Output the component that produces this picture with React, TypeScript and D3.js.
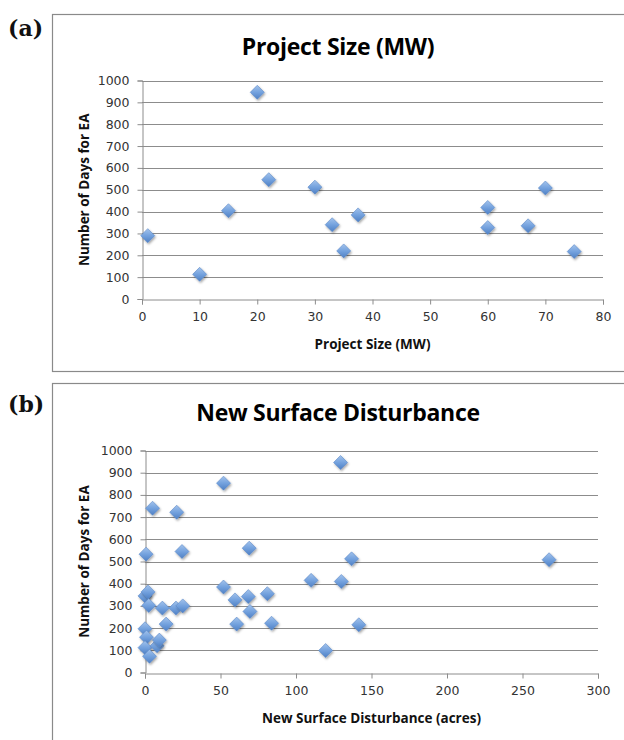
import React, { useEffect, useRef } from "react";
import * as d3 from "d3";

// (a) project size vs days
const sizeMW = [1, 10, 15, 20, 22, 30, 33, 35, 37.5, 60, 60, 67, 70, 75];
const daysBySize = [290, 113, 404, 946, 546, 512, 340, 220, 385, 419, 327, 335, 508, 217];

// (b) new surface disturbance vs days
const acres = [
  5, 21, 52, 0.7, 24.5, 69, 110, 52, 59.6, 68.4, 69.5, 81, 60.7, 83.8, 0, 2, 2.5, 11.5,
  20.5, 25, 14, 0, 1, 0, 3, 8, 9.5, 129.5, 136.8, 267.6, 130, 141.6, 119.6,
];
const daysByAcres = [
  740, 722, 853, 533, 545, 560, 415, 385, 327, 342, 275, 355, 218, 222, 345, 363, 302, 290,
  290, 300, 218, 197, 159, 112, 73, 120, 146, 946, 512, 508, 410, 215, 99,
];

const dayTicks = [0, 100, 200, 300, 400, 500, 600, 700, 800, 900, 1000];
const sizeTicks = [0, 10, 20, 30, 40, 50, 60, 70, 80];
const acreTicks = [0, 50, 100, 150, 200, 250, 300];

const App = () => {
  const chartRef = useRef(null);

  useEffect(() => {
    document.body.style.margin = "0";
    const width = 624;
    const height = 740;

    d3.select(chartRef.current).selectAll("*").remove();

    const svg = d3
      .select(chartRef.current)
      .append("svg")
      .attr("width", width)
      .attr("height", height)
      .style("display", "block");

    // marker fill and shadow
    const defs = svg.append("defs");
    const grad = defs
      .append("linearGradient")
      .attr("id", "dia")
      .attr("x1", "0")
      .attr("y1", "0")
      .attr("x2", "0")
      .attr("y2", "1");
    grad.append("stop").attr("offset", "0%").attr("stop-color", "#a3c3ec");
    grad.append("stop").attr("offset", "50%").attr("stop-color", "#74a2de");
    grad.append("stop").attr("offset", "100%").attr("stop-color", "#4f80c4");
    defs
      .append("filter")
      .attr("id", "shadow")
      .attr("x", "-50%")
      .attr("y", "-50%")
      .attr("width", "200%")
      .attr("height", "200%")
      .append("feDropShadow")
      .attr("dx", 1)
      .attr("dy", 1.5)
      .attr("stdDeviation", 1)
      .attr("flood-color", "#000")
      .attr("flood-opacity", 0.35);

    const panels = [
      {
        label: "(a)",
        labelY: 28,
        boxTop: 14.5,
        boxBottom: 371.5,
        title: "Project Size (MW)",
        titleY: 46,
        left: 142,
        right: 603,
        top: 80.5,
        bottom: 299,
        xDomain: [0, 80],
        xTicks: sizeTicks,
        xTitle: "Project Size (MW)",
        xs: sizeMW,
        ys: daysBySize,
      },
      {
        label: "(b)",
        labelY: 404,
        boxTop: 383.5,
        boxBottom: 760,
        title: "New Surface Disturbance",
        titleY: 412,
        left: 145,
        right: 598,
        top: 450.5,
        bottom: 672.5,
        xDomain: [0, 300],
        xTicks: acreTicks,
        xTitle: "New Surface Disturbance (acres)",
        xs: acres,
        ys: daysByAcres,
      },
    ];

    panels.forEach((p) => {
      const g = svg.append("g");

      // panel letter
      g.append("text")
        .attr("x", 8)
        .attr("y", p.labelY)
        .attr("dominant-baseline", "central")
        .attr("font-family", "'DejaVu Serif', serif")
        .attr("font-weight", "bold")
        .attr("font-size", "22px")
        .attr("fill", "#111")
        .text(p.label);

      // chart frame
      g.append("rect")
        .attr("x", 52.5)
        .attr("y", p.boxTop)
        .attr("width", 600)
        .attr("height", p.boxBottom - p.boxTop)
        .attr("fill", "none")
        .attr("stroke", "#8a8a8a")
        .attr("stroke-width", 1.2);

      // chart title
      g.append("text")
        .attr("x", 338)
        .attr("y", p.titleY)
        .attr("text-anchor", "middle")
        .attr("dominant-baseline", "central")
        .attr("font-family", "'Open Sans', sans-serif")
        .attr("font-weight", "bold")
        .attr("font-size", "23px")
        .attr("letter-spacing", "-0.3px")
        .attr("fill", "#000")
        .text(p.title);

      const x = d3.scaleLinear().domain(p.xDomain).range([p.left, p.right]);
      const y = d3.scaleLinear().domain([0, 1000]).range([p.bottom, p.top]);

      // gridlines
      g.selectAll("line.grid")
        .data(dayTicks.filter((d) => d > 0))
        .join("line")
        .attr("class", "grid")
        .attr("x1", p.left)
        .attr("x2", p.right)
        .attr("y1", (d) => Math.round(y(d)) + 0.5)
        .attr("y2", (d) => Math.round(y(d)) + 0.5)
        .attr("stroke", "#8c8c8c")
        .attr("stroke-width", 1);

      // y axis
      const yAxis = g
        .append("g")
        .attr("transform", `translate(${Math.round(p.left) + 0.5},0)`)
        .call(
          d3.axisLeft(y).tickValues(dayTicks).tickFormat(d3.format("d")).tickSize(5).tickPadding(8)
        );
      yAxis.select(".domain").attr("stroke", "#8c8c8c");
      yAxis.selectAll(".tick line").attr("stroke", "#8c8c8c");
      yAxis
        .selectAll("text")
        .attr("font-family", "'DejaVu Sans', sans-serif")
        .attr("font-size", "12.5px")
        .attr("fill", "#333");

      // x axis
      const xAxis = g
        .append("g")
        .attr("transform", `translate(0,${Math.round(p.bottom) + 0.5})`)
        .call(d3.axisBottom(x).tickValues(p.xTicks).tickSize(5).tickPadding(8));
      xAxis.select(".domain").attr("stroke", "#8c8c8c");
      xAxis.selectAll(".tick line").attr("stroke", "#8c8c8c");
      xAxis
        .selectAll("text")
        .attr("font-family", "'DejaVu Sans', sans-serif")
        .attr("font-size", "12.5px")
        .attr("fill", "#333");

      // axis titles
      g.append("text")
        .attr("x", (p.left + p.right) / 2)
        .attr("y", p.bottom + 45)
        .attr("text-anchor", "middle")
        .attr("dominant-baseline", "central")
        .attr("font-family", "'Open Sans', sans-serif")
        .attr("font-weight", "bold")
        .attr("font-size", "13.5px")
        .attr("fill", "#111")
        .text(p.xTitle);

      g.append("text")
        .attr("transform", `translate(84,${(p.top + p.bottom) / 2}) rotate(-90)`)
        .attr("text-anchor", "middle")
        .attr("dominant-baseline", "central")
        .attr("font-family", "'Open Sans', sans-serif")
        .attr("font-weight", "bold")
        .attr("font-size", "13.5px")
        .attr("fill", "#111")
        .text("Number of Days for EA");

      // diamonds
      const r = 7;
      g.selectAll("path.pt")
        .data(p.xs.map((v, i) => [v, p.ys[i]]))
        .join("path")
        .attr("class", "pt")
        .attr("d", `M0,${-r}L${r},0L0,${r}L${-r},0Z`)
        .attr("transform", (d) => `translate(${x(d[0])},${y(d[1])})`)
        .attr("fill", "url(#dia)")
        .attr("stroke", "#5a88c8")
        .attr("stroke-width", 0.6)
        .attr("filter", "url(#shadow)");
    });
  }, []);

  return <div ref={chartRef}></div>;
};

export default App;
